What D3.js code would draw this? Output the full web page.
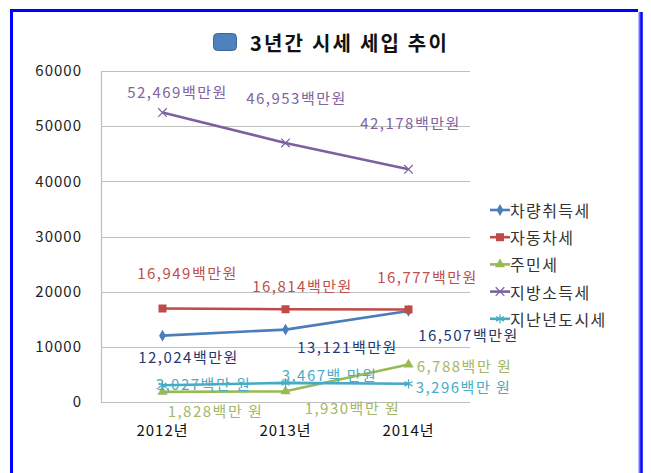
<!DOCTYPE html>
<html><head><meta charset="utf-8">
<script src="https://cdn.jsdelivr.net/npm/d3@7"></script>
<style>
html,body{margin:0;padding:0;background:#fff;}
svg{display:block;font-family:"Noto Sans CJK KR","Noto Sans",sans-serif;}
</style></head>
<body><svg id="c" width="651" height="473"></svg>
<script>
// ---- data ----
const years = ["2012년", "2013년", "2014년"];
const seriesNames = ["차량취득세", "자동차세", "주민세", "지방소득세", "지난년도시세"];
const vehicleAcq = [12024, 13121, 16507];
const carTax = [16949, 16814, 16777];
const residentTax = [1828, 1930, 6788];
const localIncome = [52469, 46953, 42178];
const prevYears = [3027, 3467, 3296];
const vehicleAcqLabels = ["12,024백만원", "13,121백만원", "16,507백만원"];
const carTaxLabels = ["16,949백만원", "16,814백만원", "16,777백만원"];
const residentLabels = ["1,828백만 원", "1,930백만 원", "6,788백만 원"];
const localIncomeLabels = ["52,469백만원", "46,953백만원", "42,178백만원"];
const prevYearsLabels = ["3,027백만 원", "3,467백 만원", "3,296백만 원"];
const yTicks = [0, 10000, 20000, 30000, 40000, 50000, 60000];
const title = "3년간 시세 세입 추이";

// ---- styling / layout (not data) ----
const styles = [
  {line:"#4A7EBB", text:"#1F3A70", sym:"diamond", off:[[26,21],[62,17],[60,24]]},
  {line:"#BE4B48", text:"#C0504D", sym:"square",  off:[[25,-36],[17,-24],[19,-33]]},
  {line:"#98B954", text:"#A3B865", sym:"triangle",off:[[53,19],[67,16],[56,1]]},
  {line:"#7D60A0", text:"#8064A2", sym:"times",   off:[[15,-21],[11,-45],[2,-47]]},
  {line:"#46AAC5", text:"#4BACC6", sym:"asterisk",off:[[41,-2],[44,-8],[55,3]]}
];
const values = [vehicleAcq, carTax, residentTax, localIncome, prevYears];
const labelSets = [vehicleAcqLabels, carTaxLabels, residentLabels, localIncomeLabels, prevYearsLabels];

const svg = d3.select("#c");
const L = 101, R = 470, T = 71, B = 402;

// border
svg.append("rect").attr("x",0).attr("y",0).attr("width",651).attr("height",473).attr("fill","#fff");
svg.append("path").attr("d","M11.5,480 L11.5,10.5 L638,10.5").attr("fill","none").attr("stroke","#0000FF").attr("stroke-width",3);
svg.append("line").attr("x1",639.5).attr("x2",639.5).attr("y1",12).attr("y2",480).attr("stroke","#7070FF").attr("stroke-width",2);
svg.append("line").attr("x1",641.5).attr("x2",641.5).attr("y1",12).attr("y2",480).attr("stroke","#0000FF").attr("stroke-width",2.5);

const x = d3.scaleBand().domain(years).range([L, R]);
const cx = d => x(d) + x.bandwidth()/2;
const y = d3.scaleLinear().domain([0, 60000]).range([B, T]);

// gridlines
svg.append("g").selectAll("line").data(yTicks).join("line")
  .attr("x1", L).attr("x2", R).attr("y1", d => Math.round(y(d))+0.5).attr("y2", d => Math.round(y(d))+0.5)
  .attr("stroke", "#BFBFBF").attr("stroke-width", 1.2);
svg.append("line").attr("x1", L+0.5).attr("x2", L+0.5).attr("y1", T).attr("y2", B+0.5)
  .attr("stroke", "#BFBFBF").attr("stroke-width", 1.2);

// axes
const yAxis = svg.append("g").attr("transform", `translate(${L},0)`)
  .call(d3.axisLeft(y).tickValues(yTicks).tickSize(0).tickPadding(19).tickFormat(d3.format("d")));
yAxis.select(".domain").remove();
yAxis.selectAll("text").attr("font-size", 15).attr("fill", "#222").attr("letter-spacing", 1)
  .attr("font-family", '"Noto Sans CJK KR",sans-serif');

const xAxis = svg.append("g").attr("transform", `translate(0,${B})`)
  .call(d3.axisBottom(x).tickSize(0).tickPadding(23));
xAxis.select(".domain").remove();
xAxis.selectAll("text").attr("font-size", 15).attr("fill", "#111").attr("letter-spacing", 1)
  .attr("font-family", '"Noto Sans CJK KR",sans-serif');

// symbols
const symMap = {
  diamond: {t: d3.symbolDiamond, s: 40, fill: true},
  square: {t: d3.symbolSquare, s: 64, fill: true},
  triangle: {t: d3.symbolTriangle, s: 45, fill: true},
  times: {t: d3.symbolTimes || d3.symbolCross, s: 50, fill: false},
  asterisk: {t: d3.symbolAsterisk || d3.symbolCross, s: 60, fill: false}
};
function drawSym(g, st, px, py) {
  const m = symMap[st.sym];
  const p = g.append("path").attr("d", d3.symbol().type(m.t).size(m.s)()).attr("transform", `translate(${px},${py})`);
  if (m.fill) p.attr("fill", st.line).attr("stroke", "none");
  else p.attr("fill", "none").attr("stroke", st.line).attr("stroke-width", 1.2);
}

const lineGen = d3.line().x((d,i) => cx(years[i])).y(d => y(d));
values.forEach((vals, si) => {
  const st = styles[si];
  const g = svg.append("g");
  g.append("path").datum(vals).attr("d", lineGen).attr("fill", "none")
    .attr("stroke", st.line).attr("stroke-width", 2.6).attr("stroke-linejoin", "round");
  vals.forEach((v, i) => drawSym(g, st, cx(years[i]), y(v)));
});
// labels
values.forEach((vals, si) => {
  const st = styles[si];
  svg.append("g").selectAll("text").data(vals).join("text")
    .attr("x", (d,i) => cx(years[i]) + st.off[i][0])
    .attr("y", (d,i) => y(d) + st.off[i][1])
    .attr("text-anchor", "middle").attr("dominant-baseline", "central")
    .attr("font-size", 15).attr("letter-spacing", 1.5).attr("fill", st.text)
    .text((d,i) => labelSets[si][i]);
});

// legend
const leg = svg.append("g");
seriesNames.forEach((n, i) => {
  const st = styles[i];
  const ly = 210 + i * 27.2;
  leg.append("line").attr("x1", 490).attr("x2", 510).attr("y1", ly).attr("y2", ly)
    .attr("stroke", st.line).attr("stroke-width", 2.6);
  drawSym(leg, st, 500, ly);
  leg.append("text").attr("x", 510).attr("y", ly).attr("dominant-baseline", "central")
    .attr("font-size", 16).attr("letter-spacing", 1.4).attr("fill", "#333").text(n);
});

// title
const tg = svg.append("g");
tg.append("rect").attr("x", 213.5).attr("y", 33.5).attr("width", 23).attr("height", 17).attr("rx", 4)
  .attr("fill", "#4F81BD").attr("stroke", "#3A6598").attr("stroke-width", 1);
tg.append("text").attr("x", 250).attr("y", 42).attr("dominant-baseline", "central")
  .attr("font-size", 20).attr("font-weight", "bold").attr("letter-spacing", 2.2).attr("fill", "#111").text(title);
</script></body></html>
